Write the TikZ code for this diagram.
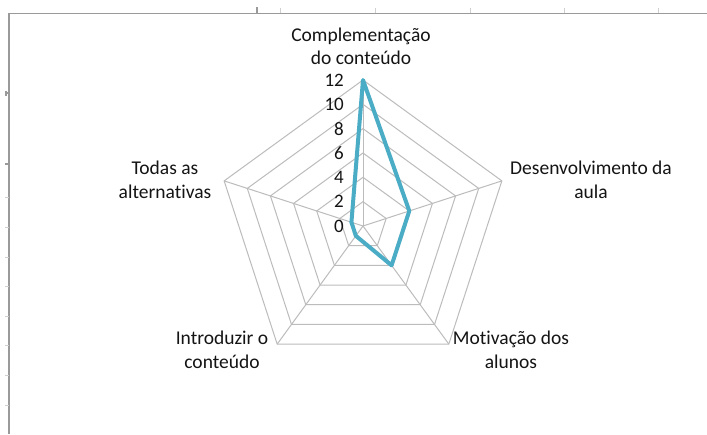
\documentclass[tikz,border=0pt]{standalone}
\usepackage{fontspec}
\setmainfont{Carlito}[RawFeature=-liga]
\usetikzlibrary{calc}
\definecolor{serie}{HTML}{4BACC6}
\definecolor{grade}{HTML}{BCBCBC}
\definecolor{moldura}{HTML}{9A9A9A}
\definecolor{texto}{HTML}{141414}
\tikzset{
  gridline/.style={draw=grade, line width=1pt},
  dataline/.style={draw=serie, line width=4pt, line join=round},
  axlabel/.style={font=\fontsize{19.5}{23.5}\selectfont, text=texto, align=center, inner sep=0pt},
  vallabel/.style={font=\fontsize{19}{22}\selectfont, text=texto, inner sep=0pt, anchor=east},
  framel/.style={draw=moldura, line width=1.6pt},
  tickl/.style={draw=grade!70, line width=1pt},
  tickd/.style={draw=moldura, line width=1.2pt}
}
\begin{document}
\begin{tikzpicture}[x=1pt,y=-1pt]
\useasboundingbox (0,0) rectangle (707,434);
\fill[white] (0,0) rectangle (707,434);
% frame of the chart area
\coordinate (tl) at (9,13.5);
\coordinate (tr) at (707,13.5);
\coordinate (bl) at (9,434);
\draw[framel] (tr) -- (tl) -- (bl);
% small ticks of the sheet
\foreach \x in {280,375,470,564,658} \draw[tickl] (\x,8) -- (\x,13);
\draw[tickd] (257,7) -- (257,13);
\foreach \y in {197,227,257,286,316,345,375,405} \draw[tickl] (5,\y) -- (8.5,\y);
\draw[tickd] (5,164) -- (8.5,164);
\draw[tickd] (6,93) -- (8.5,93);
\draw[tickd] (6,91) -- (6,96);
% radar
\coordinate (C) at (363,226);
\begin{scope}[shift={(C)}]
  \foreach \k in {1,...,6}{
    \pgfmathsetmacro{\r}{\k*146/6}
    \draw[gridline] (90:\r pt) -- (18:\r pt) -- (-54:\r pt) -- (-126:\r pt) -- (162:\r pt) -- cycle;
  }
  \foreach \a/\n in {90/v1,18/v2,-54/v3,-126/v4,162/v5}{
    \coordinate (\n) at (\a:146pt);
    \draw[gridline] (0,0) -- (\n);
  }
  % data: 12, 4, 4, 1, 1
  \coordinate (d1) at (90:146pt);
  \coordinate (d2) at (18:{4*146/12 pt});
  \coordinate (d3) at (-54:{4*146/12 pt});
  \coordinate (d4) at (-126:{1*146/12 pt});
  \coordinate (d5) at (162:{1*146/12 pt});
  \draw[dataline] (d1) -- (d2) -- (d3) -- (d4) -- (d5) -- cycle;
\end{scope}
% value labels
\foreach \v [count=\i from 0] in {0,2,4,6,8,10,12}{
  \node[vallabel] (val\v) at (344,{226-\i*146/6}) {\v};
}
% axis labels
\node[axlabel] (lab1) at (361,46.5) {Complementação\\do conteúdo};
\node[axlabel] (lab2) at (591,180) {Desenvolvimento da\\aula};
\node[axlabel] (lab3) at (511,350) {Motivação dos\\alunos};
\node[axlabel] (lab4) at (222,350) {Introduzir o\\conteúdo};
\node[axlabel] (lab5) at (165,180) {Todas as\\alternativas};
\end{tikzpicture}
\end{document}
